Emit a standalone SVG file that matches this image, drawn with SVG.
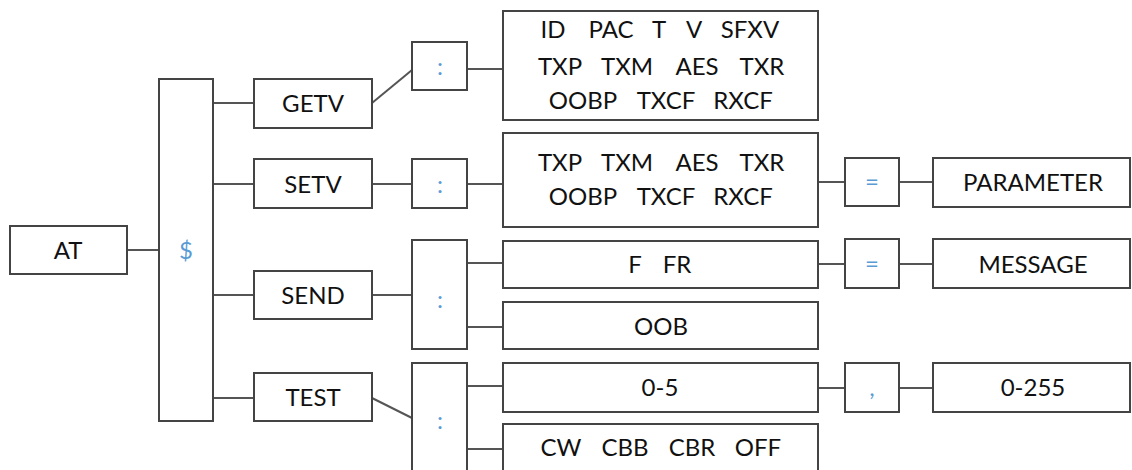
<svg xmlns="http://www.w3.org/2000/svg" width="1132" height="470" viewBox="0 0 1132 470">
<style>
rect{fill:#fff;stroke:#444;stroke-width:2}
line{stroke:#555;stroke-width:2}
text{font-family:Lato,"Open Sans",sans-serif;font-size:24px;fill:#111;text-anchor:middle}
.s{fill:#5b9bd5}
</style>
<rect x="0" y="0" width="1132" height="470" style="stroke:none"/>
<g id="connectors">
<line x1="127" y1="250" x2="159" y2="250"/>
<line x1="213" y1="103" x2="254" y2="103"/>
<line x1="213" y1="184" x2="254" y2="184"/>
<line x1="213" y1="295" x2="254" y2="295"/>
<line x1="213" y1="398" x2="254" y2="398"/>
<line x1="372" y1="103" x2="412" y2="70"/>
<line x1="467" y1="69" x2="503" y2="69"/>
<line x1="372" y1="184" x2="412" y2="184"/>
<line x1="467" y1="184" x2="503" y2="184"/>
<line x1="818" y1="182" x2="845" y2="182"/>
<line x1="899" y1="182" x2="933" y2="182"/>
<line x1="372" y1="295" x2="412" y2="295"/>
<line x1="467" y1="263" x2="503" y2="263"/>
<line x1="467" y1="327" x2="503" y2="327"/>
<line x1="818" y1="264" x2="845" y2="264"/>
<line x1="899" y1="264" x2="933" y2="264"/>
<line x1="372" y1="398" x2="412" y2="418"/>
<line x1="467" y1="386" x2="503" y2="386"/>
<line x1="467" y1="449" x2="503" y2="449"/>
<line x1="818" y1="388" x2="845" y2="388"/>
<line x1="899" y1="388" x2="933" y2="388"/>
</g>
<g id="at"><rect x="10" y="226" width="117" height="48"/><text x="68" y="259">AT</text></g>
<g id="dollar"><rect x="159" y="79" width="54" height="342"/><text class="s" x="186" y="259">$</text></g>
<g id="getv"><rect x="254" y="79" width="118" height="49"/><text x="313" y="112">GETV</text></g>
<g id="setv"><rect x="254" y="159" width="118" height="49"/><text x="313" y="193">SETV</text></g>
<g id="send"><rect x="254" y="271" width="118" height="48"/><text x="313" y="304">SEND</text></g>
<g id="test"><rect x="254" y="373" width="118" height="48"/><text x="313" y="406">TEST</text></g>
<g id="colon1"><rect x="412" y="42" width="55" height="48"/><text class="s" x="440" y="75">:</text></g>
<g id="colon2"><rect x="412" y="159" width="55" height="49"/><text class="s" x="440" y="193">:</text></g>
<g id="colon3"><rect x="412" y="240" width="55" height="109"/><text class="s" x="440" y="308">:</text></g>
<g id="colon4"><rect x="412" y="363" width="55" height="120"/><text class="s" x="440" y="429">:</text></g>
<g id="getv-params"><rect x="503" y="11" width="315" height="109"/>
<text x="553" y="38">ID</text><text x="611" y="38">PAC</text><text x="659" y="38">T</text><text x="694" y="38">V</text><text x="750" y="38">SFXV</text>
<text x="560" y="75">TXP</text><text x="627" y="75">TXM</text><text x="697" y="75">AES</text><text x="762" y="75">TXR</text>
<text x="583" y="109">OOBP</text><text x="666" y="109">TXCF</text><text x="743" y="109">RXCF</text></g>
<g id="setv-params"><rect x="503" y="133" width="315" height="94"/>
<text x="560" y="171">TXP</text><text x="627" y="171">TXM</text><text x="697" y="171">AES</text><text x="762" y="171">TXR</text>
<text x="583" y="205">OOBP</text><text x="666" y="205">TXCF</text><text x="743" y="205">RXCF</text></g>
<g id="ffr"><rect x="503" y="241" width="315" height="47"/><text x="635" y="273">F</text><text x="677" y="273">FR</text></g>
<g id="oob"><rect x="503" y="302" width="315" height="47"/><text x="661" y="335">OOB</text></g>
<g id="zero5"><rect x="503" y="363" width="315" height="49"/><text x="660" y="396">0-5</text></g>
<g id="cw"><rect x="503" y="424" width="315" height="60"/>
<text x="561" y="456">CW</text><text x="625" y="456">CBB</text><text x="692" y="456">CBR</text><text x="758" y="456">OFF</text></g>
<g id="eq1"><rect x="845" y="158" width="54" height="48"/><text class="s" x="872" y="190">=</text></g>
<g id="eq2"><rect x="845" y="239" width="54" height="49"/><text class="s" x="872" y="272">=</text></g>
<g id="comma"><rect x="845" y="363" width="54" height="49"/><text class="s" x="872" y="396">,</text></g>
<g id="parameter"><rect x="933" y="158" width="197" height="49"/><text x="1033" y="191">PARAMETER</text></g>
<g id="message"><rect x="933" y="239" width="197" height="49"/><text x="1033" y="273">MESSAGE</text></g>
<g id="v0255"><rect x="933" y="363" width="197" height="49"/><text x="1033" y="396">0-255</text></g>
</svg>
